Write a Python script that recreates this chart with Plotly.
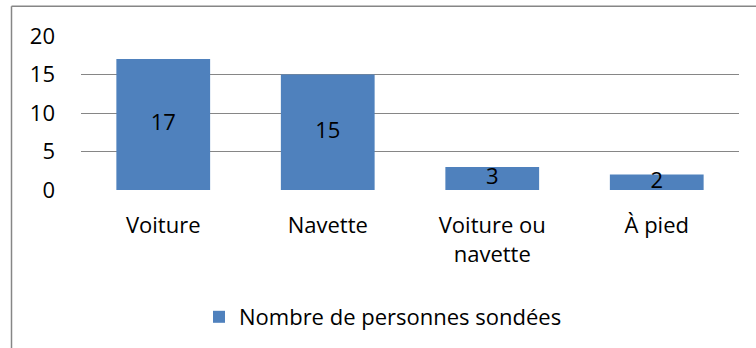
import plotly.graph_objects as go

# Survey: means of transport
categories = ["Voiture", "Navette", "Voiture ou<br>navette", "À pied"]
values = [17, 15, 3, 2]
series_name = "Nombre de personnes sondées"
y_ticks = [0, 5, 10, 15, 20]

BAR_COLOR = "#4F81BD"
GRID_COLOR = "#868686"
FONT = "Open Sans"
FS = 22

# plot area in pixels (used to place the frame lines in paper units)
W, H = 756, 348
L, R, T, B = 81, 17, 36, 157
pw, ph = W - L - R, H - T - B

fig = go.Figure()
fig.add_trace(go.Bar(
    x=categories, y=values, name=series_name,
    marker=dict(color=BAR_COLOR, line=dict(width=0)),
    showlegend=True,
))
# value labels at the middle of each bar
fig.add_trace(go.Scatter(
    x=categories, y=[v / 2 for v in values],
    text=[str(v) for v in values], mode="text",
    textfont=dict(family=FONT, size=FS, color="#000000"),
    textposition="middle center", showlegend=False, hoverinfo="skip",
))

def px_x(p):
    return (p - L) / pw

def px_y(p):
    return (H - B - p) / ph

# chart frame (left and top edges)
frame = dict(type="line", xref="paper", yref="paper",
             line=dict(color="#868686", width=1.5))
fig.add_shape(**frame, x0=px_x(11.5), x1=px_x(11.5), y0=px_y(6), y1=px_y(400))
fig.add_shape(**frame, x0=px_x(11.5), x1=px_x(800), y0=px_y(6), y1=px_y(6))

fig.update_layout(
    width=W, height=H,
    margin=dict(l=L, r=R, t=T, b=B, pad=0),
    paper_bgcolor="white", plot_bgcolor="white",
    font=dict(family=FONT, size=FS, color="#000000"),
    bargap=0.43,
    showlegend=True,
    legend=dict(
        orientation="h", x=px_x(199), y=px_y(317),
        xanchor="left", yanchor="middle",
        font=dict(family=FONT, size=FS), bgcolor="rgba(0,0,0,0)",
        itemclick=False,
    ),
    xaxis=dict(
        type="category", showgrid=False, zeroline=False, showline=False,
        ticks="", ticklabelstandoff=20, tickfont=dict(family=FONT, size=FS),
    ),
    yaxis=dict(
        range=[0, 20], tickvals=y_ticks, showgrid=True,
        gridcolor=GRID_COLOR, gridwidth=1.3, zeroline=False,
        showline=False, ticks="", ticklabelstandoff=25,
        tickfont=dict(family=FONT, size=FS),
    ),
)

fig.write_html("out.html")
